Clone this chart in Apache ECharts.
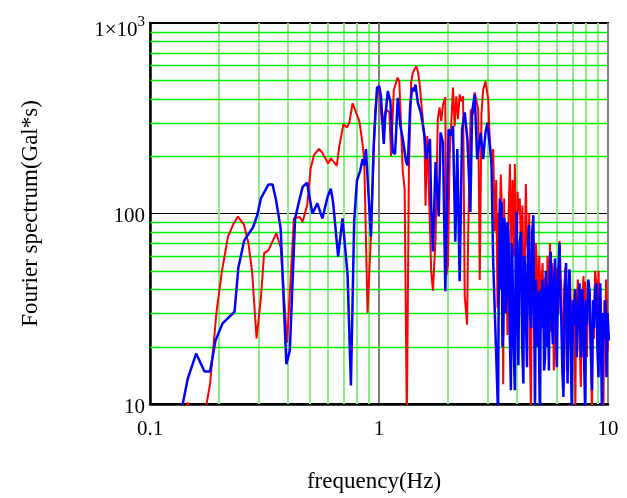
<!DOCTYPE html>
<html>
<head>
<meta charset="utf-8">
<script src="https://cdn.jsdelivr.net/npm/echarts@6/dist/echarts.min.js"></script>
<style>
html,body{margin:0;padding:0;background:#fff;}
#chart{width:627px;height:498px;}
</style>
</head>
<body>
<div id="chart"></div>
<script>
// ---- data ----
var redFreq = [0.134,0.146,0.159,0.171,0.183,0.195,0.206,0.219,0.231,0.242,0.257,0.269,0.279,0.292,0.305,0.315,0.329,0.356,0.372,0.397,0.425,0.450,0.464,0.486,0.503,0.520,0.547,0.566,0.600,0.616,0.654,0.670,0.699,0.724,0.742,0.767,0.820,0.842,0.862,0.891,0.922,0.961,0.980,1.003,1.031,1.073,1.110,1.129,1.160,1.205,1.227,1.270,1.294,1.323,1.351,1.382,1.405,1.453,1.478,1.503,1.539,1.580,1.596,1.624,1.662,1.690,1.720,1.766,1.806,1.839,1.871,1.903,1.948,1.968,2.001,2.034,2.105,2.139,2.176,2.213,2.250,2.289,2.329,2.367,2.425,2.450,2.515,2.576,2.618,2.710,2.754,2.802,2.850,2.917,2.999,3.046,3.098,3.152,
  3.204,3.25,3.293,3.33,3.37,3.40,3.428,3.46,3.487,3.52,3.545,3.59,3.64,3.68,3.73,3.76,3.79,3.83,3.86,3.89,3.92,3.95,3.99,4.03,4.06,4.12,4.17,4.23,4.27,4.31,4.35,4.38,4.43,4.49,4.53,4.56,4.61,4.65,4.69,4.74,4.80,4.84,4.88,4.93,4.97,5.01,5.05,5.09,5.13,5.18,5.22,5.26,5.31,5.36,5.40,5.44,5.48,5.53,5.58,5.64,5.69,5.74,5.80,5.87,5.93,6.00,6.07,6.14,6.20,6.25,6.30,6.35,6.43,6.50,6.56,6.61,6.66,6.71,6.77,6.83,6.89,6.95,7.01,7.07,7.13,7.20,7.25,7.31,7.38,7.46,7.53,7.61,7.70,7.82,7.88,7.95,8.02,8.09,8.20,8.31,8.40,8.51,8.60,8.68,8.78,8.88,8.98,9.10,9.17,9.25,9.33,9.41,9.48,9.55,9.64,9.73,9.81,9.90,10.07];
var redAmp = [5,10.2,6,8,12.8,30.1,49.7,75.6,87.7,96.4,87.7,69.8,49.9,22.1,36.1,61.9,64.2,78.7,66.5,21.0,94.2,95.9,90.5,111,172,203,218,208,183,195,178,223,294,283,300,379,306,246,193,30.1,75.9,339,422,457,294,352,340,200,442,517,493,166,135,8,172,487,549,593,558,487,352,246,110,255,102,49.9,39.3,74.1,313,361,305,374,407,47.5,53.6,200,458,287,412,313,422,388,412,37.0,26.1,74.1,352,332,432,352,44.8,332,448,493,397,246,182,218,
  80.6,150,32,100,77,160,124,40,12.7,120,44,71.5,23,100,182,90,66,150,102,60,182,80,36,130,102,120,60,110,50,26,90,143,70,63,100,19,9,60,83,30,46,70,58,30,44,60,41,25,46,55,37,20,46,30,36,60,52,30,70,24,55,36,15,20.5,45,52,30,72,50,41,25,13.8,35,52,30,15,40,36,50,47,25,12.7,35,28,40,9,25,32,45,36,20,12.3,35,47,30,44,25,17.6,42,39,22,9,30,22,50,44,30,50,25,41,20,13.8,25,9,35,23,45,32,19];

var blueFreq = [0.134,0.146,0.159,0.173,0.183,0.193,0.2075,0.234,0.243,0.258,0.282,0.294,0.305,0.329,0.343,0.355,0.372,0.394,0.408,0.430,0.447,0.464,0.485,0.512,0.538,0.566,0.596,0.616,0.630,0.663,0.693,0.729,0.754,0.779,0.801,0.828,0.848,0.862,0.877,0.891,0.922,0.948,0.980,1.003,1.020,1.049,1.063,1.092,1.121,1.148,1.175,1.208,1.240,1.270,1.314,1.336,1.368,1.396,1.420,1.443,1.478,1.528,1.580,1.607,1.669,1.690,1.720,1.766,1.824,1.857,1.903,1.948,2.014,2.069,2.105,2.154,2.198,2.250,2.306,2.367,2.432,2.506,2.550,2.618,2.683,2.780,2.850,2.917,2.976,3.046,3.098,3.152,
  3.31,3.34,3.37,3.40,3.428,3.46,3.487,3.52,3.545,3.575,3.606,3.64,3.68,3.72,3.767,3.79,3.82,3.87,3.92,3.95,3.99,4.02,4.06,4.11,4.17,4.22,4.27,4.30,4.34,4.39,4.43,4.47,4.52,4.57,4.62,4.67,4.72,4.76,4.80,4.84,4.88,4.92,4.97,5.01,5.05,5.09,5.13,5.17,5.22,5.26,5.31,5.35,5.40,5.43,5.46,5.52,5.57,5.62,5.68,5.74,5.80,5.87,5.92,5.98,6.05,6.14,6.20,6.25,6.32,6.39,6.47,6.56,6.61,6.66,6.72,6.79,6.87,6.95,7.03,7.12,7.20,7.31,7.40,7.51,7.57,7.64,7.72,7.81,7.88,7.95,8.02,8.09,8.20,8.31,8.40,8.51,8.60,8.68,8.78,8.88,8.98,9.09,9.17,9.25,9.33,9.41,9.52,9.63,9.74,9.85,9.95,10.10];
var blueAmp = [8,13.5,18.4,14.8,14.8,21.5,26.5,30.5,51.7,72.3,84.7,98,120,142,142,118,83.5,16.2,19.1,94.2,115,138,145,100,113,94.2,122,135,115,59.5,94.2,47.7,12.5,90.5,149,168,193,179,218,214,75.6,227,457,466,413,232,313,439,389,210,205,405,288,246,186,179,366,457,439,475,382,332,256,193,246,110,63.2,186,96.4,266,236,39.1,277,256,288,71.2,218,44.1,277,339,246,102,339,422,193,266,193,266,300,227,186,56,
  9,60,120,40,115,20,24,95,87,30,36,90,74,25,11.8,70,63,20,11.8,60,102,30,16,70,80,20,12.8,60,54,25,15.6,70,87,30,25,80,98,30,9,45,36,20,39,15,9,40,25,45,37.5,15,17.6,50,36,20,42,15,50,63,30,20.6,45,58,25,15.6,45,70,35,28,15,10.9,40,55,25,12.8,35,51,20,9,35,26,40,17.6,30,43,25,17.6,40,32,15,9,35,26,45,39,20,11.8,35,25,40,43,20,13.8,35,43,20,9,30,22,35,13.8,30,21.5];

var xTicks = [0.1, 1, 10];
var yTicks = [10, 100, 1000];
var xMinorGrid = [0.2,0.3,0.4,0.5,0.6,0.7,0.8,0.9,2,3,4,5,6,7,8,9];
var yMinorGrid = [20,30,40,50,60,70,80,90,200,300,400,500,600,700,800,900];

function pairs(xs, ys){ return xs.map(function(x,i){ return [x, ys[i]]; }); }

var FONT = 'Liberation Serif';
var chart = echarts.init(document.getElementById('chart'), null, {renderer:'canvas'});

function vGrid(params, api){
  var cs = params.coordSys;
  var x = Math.round(api.coord([api.value(0), 100])[0]);
  return {type:'line', silent:true,
    shape:{x1:x, y1:cs.y, x2:x, y2:cs.y+cs.height},
    style:{stroke:'#88ee88', lineWidth:2}};
}
function hGrid(params, api){
  var cs = params.coordSys;
  var y = Math.round(api.coord([1, api.value(1)])[1]) + 0.5;
  return {type:'line', silent:true,
    shape:{x1:cs.x, y1:y, x2:cs.x+cs.width, y2:y},
    style:{stroke:'#00ee00', lineWidth:1.3}};
}

chart.setOption({
  animation: false,
  backgroundColor: '#ffffff',
  grid: {left:150, right:19, top:23, bottom:91, show:true, borderColor:'#000', borderWidth:2, backgroundColor:'transparent'},
  xAxis: {
    type:'log', logBase:10, min:xTicks[0], max:xTicks[xTicks.length-1],
    name:'frequency(Hz)', nameLocation:'middle', nameGap:66,
    nameTextStyle:{fontFamily:FONT, fontSize:23, color:'#000', padding:[0,10,0,0]},
    axisLine:{show:true, lineStyle:{color:'#000', width:2.5}},
    axisTick:{show:false},
    axisLabel:{fontFamily:FONT, fontSize:21, color:'#000', margin:15, showMinLabel:true, showMaxLabel:true},
    splitLine:{show:true, lineStyle:{color:'#808080', width:2}}
  },
  yAxis: {
    type:'log', logBase:10, min:yTicks[0], max:yTicks[yTicks.length-1],
    name:'Fourier spectrum(Gal*s)', nameLocation:'middle', nameGap:108,
    nameTextStyle:{fontFamily:FONT, fontSize:23, color:'#000'},
    axisLine:{show:true, lineStyle:{color:'#000', width:2.5}},
    axisTick:{show:false},
    axisLabel:{
      fontFamily:FONT, fontSize:21, color:'#000', margin:5, showMinLabel:true, showMaxLabel:true,
      padding:[6,0,0,0],
      formatter:function(v){ return Math.abs(v-1000)<1 ? '{base|1\u00d710}{sup|3}' : String(Math.round(v)); },
      rich:{
        base:{fontFamily:FONT, fontSize:21, color:'#000', padding:[9,0,0,0]},
        sup:{fontFamily:FONT, fontSize:15, color:'#000', padding:[3,0,11,0]}
      }
    },
    splitLine:{show:true, lineStyle:{color:'#000', width:1}}
  },
  series: [
    { type:'custom', z:1, silent:true, renderItem:vGrid, encode:{x:0, y:1},
      data: xMinorGrid.map(function(v){ return [v, 100]; }) },
    { type:'custom', z:1, silent:true, renderItem:hGrid, encode:{x:0, y:1},
      data: yMinorGrid.map(function(v){ return [1, v]; }) },
    { name:'red', type:'line', z:3, data:pairs(redFreq, redAmp), showSymbol:false, symbol:'none',
      lineStyle:{color:'#ff0000', width:2}, clip:true },
    { name:'blue', type:'line', z:4, data:pairs(blueFreq, blueAmp), showSymbol:false, symbol:'none',
      lineStyle:{color:'#0000ff', width:2.5}, clip:true }
  ]
});
</script>
</body>
</html>
